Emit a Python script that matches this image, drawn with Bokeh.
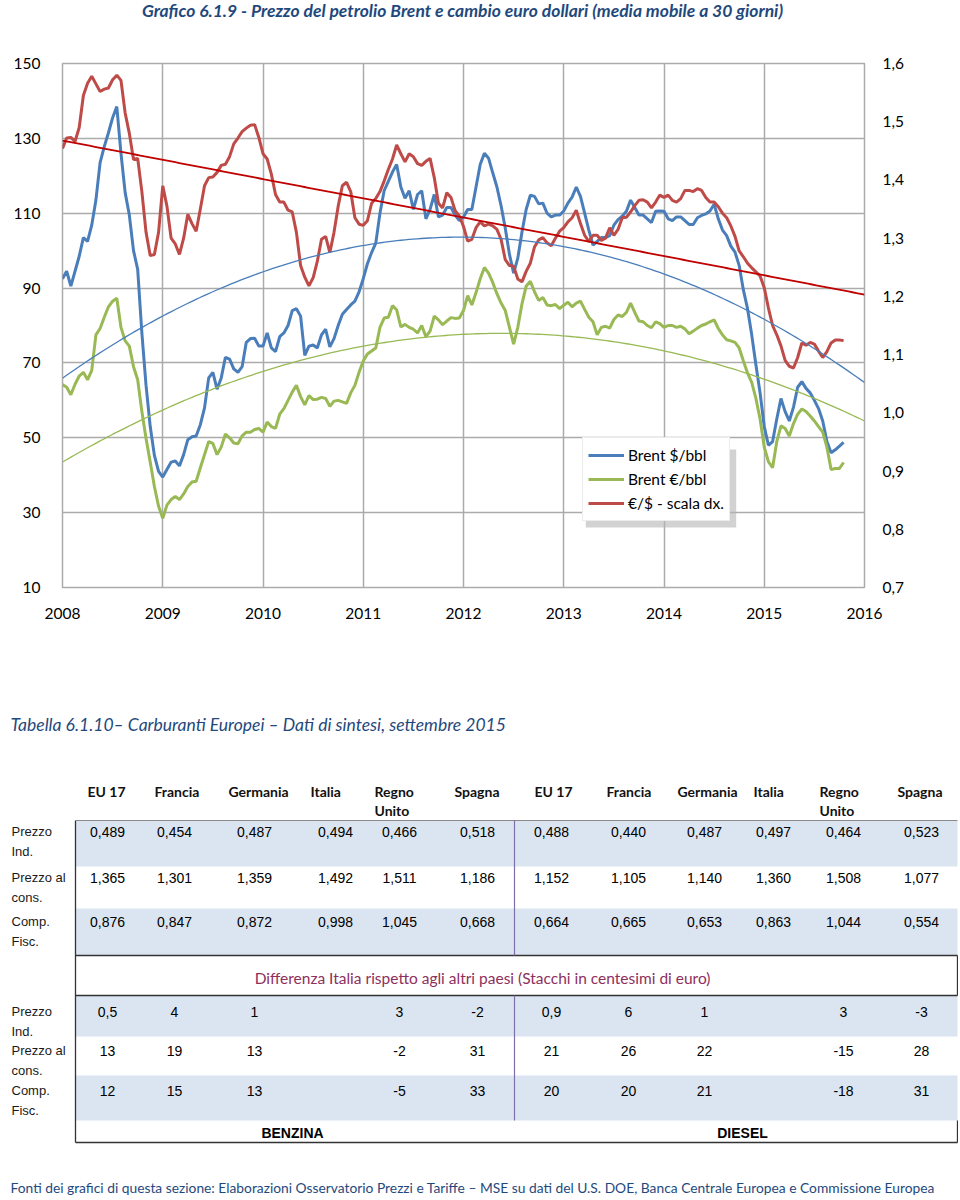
import numpy as np
from bokeh.plotting import figure
from bokeh.models import (Range1d, LinearAxis, FixedTicker, CustomJSTickFormatter,
                          Legend, LegendItem)
from bokeh.layouts import column
from bokeh.embed import file_html
from bokeh.resources import INLINE
from bokeh.core.properties import value

# ---------------------------------------------------------------- data
CHART_TITLE = "Grafico 6.1.9 - Prezzo del petrolio Brent e cambio euro dollari (media mobile a 30 giorni)"
START_YEAR = 2008
STEPS_PER_YEAR = 24          # semi-monthly readings
YEARS = [2008, 2009, 2010, 2011, 2012, 2013, 2014, 2015, 2016]
LEFT_TICKS = [10, 30, 50, 70, 90, 110, 130, 150]
RIGHT_TICKS = [0.7, 0.8, 0.9, 1.0, 1.1, 1.2, 1.3, 1.4, 1.5, 1.6]

BRENT_USD = [
    92.5, 94.5, 90.5, 94.5, 98.5, 103.5, 102.5, 106.8, 113.5, 123.5, 127.8, 131.5,
    135.5, 138.5, 126, 115.5, 109.5, 100, 95, 78, 64, 53, 45.3, 41,
    39.5, 41.5, 43.5, 43.8, 42.5, 45.5, 49.5, 50.3, 50.5, 53.5, 58, 66,
    67.5, 63, 66, 71.5, 71, 68.4, 67.5, 69, 75.5, 76.5, 76.6, 74.5,
    74.5, 78, 74, 73, 77, 78, 80, 84, 84.5, 82.5, 72, 74.5,
    74.8, 74, 77.5, 79, 74.3, 76.5, 80, 83, 84.3, 85.5, 86.5, 89,
    92.5, 96.5, 99.5, 102, 110, 116, 118.5, 121, 123, 117, 114, 116,
    111, 115, 116, 108.5, 111, 115, 109, 109.5, 111.5, 111.5, 109.5, 108,
    109, 111, 111, 117, 123, 126, 124.7, 120.8, 117, 112, 106, 99,
    94, 98, 105, 111, 114.8, 114.5, 112.5, 112.7, 110, 109, 109.5, 109.5,
    110.6, 112.7, 114.3, 117, 114.5, 110, 105.5, 101.5, 102.5, 103.5, 103.5, 104,
    106.8, 108.3, 109.2, 110.5, 113.5, 111.5, 109.5, 109.5, 108.5, 107.5, 110.5, 110.6,
    110.5, 108.5, 108, 109, 109, 108, 107, 107, 108.8, 109.4, 109.8, 110.6,
    112.4, 108.5, 105.5, 104, 101.2, 99.6, 96, 89.5, 84.5, 77.5, 69.5, 62,
    53, 48, 49, 55, 60.5, 57, 54.5, 58.2, 63.5, 65, 63.2, 62,
    60, 57.8, 54.5, 49, 46, 46.8, 47.8, 48.8,
]

BRENT_EUR = [
    64.2, 63.5, 61.5, 64.3, 66.5, 67.5, 65.5, 68, 77.5, 79.2, 82.2, 85,
    86.5, 87.3, 79.5, 75.9, 74.5, 69, 65.5, 57, 49.8, 43.5, 37, 31.7,
    28.5, 32, 33.5, 34.3, 33.5, 35, 37, 38.2, 38.4, 42, 45.5, 49,
    48.5, 45.5, 47.5, 51, 50, 48.6, 48.4, 50.5, 51.5, 51.5, 52.2, 52.5,
    51.5, 54.2, 53, 52.5, 56.3, 57.8, 60, 62.2, 64, 61, 58.8, 61.3,
    60.2, 60.3, 60.8, 60.5, 58.4, 59.8, 60, 59.6, 59.2, 62, 64, 67.5,
    70.5, 72.4, 73.2, 74, 79.5, 82, 82.2, 85.3, 84.2, 79.6, 80.3, 79.5,
    79, 78, 80, 77, 78.5, 82.5, 81.5, 80.2, 81.2, 82.1, 81.9, 82,
    84, 88, 85.5, 88.8, 92.5, 95.5, 94, 91.5, 88.5, 86, 84, 79.5,
    75, 79.5, 85.8, 90.5, 91.8, 89, 86.7, 87.5, 85.5, 85.3, 85.6, 84.5,
    85.4, 86.2, 85, 86, 86.5, 84.3, 82.2, 81, 77.5, 79.5, 79.8, 79.3,
    81.6, 82.8, 82.4, 83.5, 86, 83.5, 81.2, 81, 80, 79.4, 81, 80.5,
    79.5, 80, 80, 79.5, 79.8, 79.1, 77.8, 78.5, 79.3, 80, 80.4, 81,
    81.5, 79.2, 77.5, 76.2, 75.9, 75.5, 74, 70.5, 67.3, 64.8, 60.5, 55,
    47.5, 43.6, 42, 49, 53.2, 52.5, 50.5, 53.8, 56.3, 57.7, 57, 55.8,
    54.5, 53, 51.5, 47.5, 41.5, 41.8, 41.8, 43.4,
]

EUR_USD = [
    1.454, 1.472, 1.473, 1.466, 1.49, 1.545, 1.566, 1.578, 1.565, 1.552, 1.556, 1.558,
    1.572, 1.58, 1.571, 1.515, 1.48, 1.435, 1.437, 1.38, 1.31, 1.27, 1.272, 1.31,
    1.39, 1.355, 1.30, 1.29, 1.272, 1.30, 1.341, 1.325, 1.312, 1.35, 1.39, 1.404,
    1.405, 1.413, 1.425, 1.427, 1.44, 1.462, 1.472, 1.483, 1.489, 1.494, 1.495, 1.473,
    1.445, 1.436, 1.41, 1.375, 1.362, 1.362, 1.348, 1.345, 1.31, 1.253, 1.233, 1.218,
    1.232, 1.26, 1.298, 1.303, 1.275, 1.31, 1.355, 1.39, 1.396, 1.38, 1.335, 1.324,
    1.322, 1.33, 1.36, 1.368, 1.38, 1.398, 1.418, 1.436, 1.46, 1.445, 1.431, 1.445,
    1.44, 1.428, 1.425, 1.432, 1.437, 1.404, 1.36, 1.352, 1.378, 1.37, 1.347, 1.338,
    1.32, 1.295, 1.298, 1.318, 1.328, 1.321, 1.324, 1.321, 1.315, 1.298, 1.263, 1.253,
    1.252, 1.23, 1.225, 1.243, 1.257, 1.285, 1.297, 1.301, 1.292, 1.287, 1.3, 1.312,
    1.318, 1.328, 1.335, 1.348, 1.325, 1.305, 1.294, 1.305, 1.305, 1.296, 1.3, 1.318,
    1.305, 1.315, 1.335, 1.336, 1.345, 1.356, 1.365, 1.366, 1.362, 1.352, 1.362, 1.374,
    1.37, 1.374, 1.365, 1.362, 1.368, 1.382, 1.382, 1.38, 1.385, 1.382, 1.37, 1.362,
    1.362, 1.354, 1.343, 1.335, 1.321, 1.303, 1.278, 1.268, 1.257, 1.249, 1.242, 1.235,
    1.215, 1.18, 1.15, 1.134, 1.115, 1.09, 1.08, 1.077, 1.095, 1.12, 1.116, 1.121,
    1.118, 1.106, 1.095, 1.105, 1.12, 1.125, 1.125, 1.124,
]

SERIES_LABELS = ["Brent $/bbl", "Brent €/bbl", "€/$ - scala dx."]

# table
TABLE_TITLE = "Tabella 6.1.10– Carburanti Europei – Dati di sintesi, settembre 2015"
HEADER_LINE1 = ["EU 17", "Francia", "Germania", "Italia", "Regno", "Spagna"] * 2
HEADER_LINE2 = ["", "", "", "", "Unito", ""] * 2
ROW_LABELS = [("Prezzo", "Ind."), ("Prezzo al", "cons."), ("Comp.", "Fisc.")]

BENZ_IND = [0.489, 0.454, 0.487, 0.494, 0.466, 0.518]
BENZ_CONS = [1.365, 1.301, 1.359, 1.492, 1.511, 1.186]
BENZ_FISC = [0.876, 0.847, 0.872, 0.998, 1.045, 0.668]
DIES_IND = [0.488, 0.440, 0.487, 0.497, 0.464, 0.523]
DIES_CONS = [1.152, 1.105, 1.140, 1.360, 1.508, 1.077]
DIES_FISC = [0.664, 0.665, 0.653, 0.863, 1.044, 0.554]

DIFF_TITLE = "Differenza Italia rispetto agli altri paesi (Stacchi in centesimi di euro)"
BENZ_D_IND = [0.5, 4, 1, None, 3, -2]
BENZ_D_CONS = [13, 19, 13, None, -2, 31]
BENZ_D_FISC = [12, 15, 13, None, -5, 33]
DIES_D_IND = [0.9, 6, 1, None, 3, -3]
DIES_D_CONS = [21, 26, 22, None, -15, 28]
DIES_D_FISC = [20, 20, 21, None, -18, 31]
FUELS = ["BENZINA", "DIESEL"]

FOOTER = ("Fonti dei grafici di questa sezione: Elaborazioni Osservatorio Prezzi e Tariffe – "
          "MSE su dati del U.S. DOE, Banca Centrale Europea e Commissione Europea")

# ---------------------------------------------------------------- styles
NAVY = "#1F497D"
BLUE = "#4A7EBB"
GREEN = "#98B954"
RED = "#BE4B48"
GRID = "#ABABAB"
CAL = "Lato"
ARIAL = "Liberation Sans"
W = 958


def blank(fig):
    fig.axis.visible = False
    fig.grid.visible = False
    fig.outline_line_color = None
    fig.frame_align = False


# ---------------------------------------------------------------- title figure
tf = figure(width=W, height=40, x_range=Range1d(0, W), y_range=Range1d(40, 0),
            output_backend="svg", toolbar_location=None, min_border=0)
blank(tf)
tf.text(x=[462], y=[10], text=[CHART_TITLE], text_font=value(CAL), text_font_size="17.5px",
        text_font_style="bold italic", text_color=NAVY, text_align="center",
        text_baseline="middle")

# ---------------------------------------------------------------- chart
t = START_YEAR + np.arange(len(BRENT_USD)) / STEPS_PER_YEAR
usd = np.array(BRENT_USD, dtype=float)
eur = np.array(BRENT_EUR, dtype=float)
fx = np.array(EUR_USD, dtype=float)

p = figure(width=W, height=610, x_range=Range1d(2008, 2016), y_range=Range1d(10, 150),
           output_backend="svg", toolbar_location=None,
           min_border_left=62, min_border_right=W - 864, min_border_top=23,
           min_border_bottom=63)
p.frame_align = False
p.extra_y_ranges = {"fx": Range1d(0.7, 1.6)}
p.add_layout(LinearAxis(y_range_name="fx"), "right")
p.outline_line_color = GRID
p.outline_line_width = 1.5

p.xaxis.ticker = FixedTicker(ticks=YEARS)
p.xaxis.formatter = CustomJSTickFormatter(code="return tick.toFixed(0);")
p.yaxis[0].ticker = FixedTicker(ticks=LEFT_TICKS)
p.yaxis[1].ticker = FixedTicker(ticks=RIGHT_TICKS)
p.yaxis[1].formatter = CustomJSTickFormatter(code="return tick.toFixed(1).replace('.', ',');")
p.xgrid.ticker = FixedTicker(ticks=YEARS)
p.ygrid.ticker = FixedTicker(ticks=LEFT_TICKS)
p.grid.grid_line_color = GRID
p.grid.grid_line_width = 1.5

for ax in p.axis:
    ax.axis_line_color = None
    ax.major_tick_line_color = None
    ax.minor_tick_line_color = None
    ax.major_label_text_font = CAL
    ax.major_label_text_font_size = "15.5px"
    ax.major_label_text_color = "#000000"
    ax.major_label_standoff = 16
p.xaxis.major_label_standoff = 14
p.yaxis[1].major_label_standoff = 12

# legend shadow (drawn first so the legend sits on top of it)
p.quad(left=[2013.22], right=[2014.72], top=[46.9], bottom=[26.0],
       fill_color="#B4B4B4", fill_alpha=0.6, line_color=None)

r_usd = p.line(t, usd, line_color=BLUE, line_width=3)
r_eur = p.line(t, eur, line_color=GREEN, line_width=3)
r_fx = p.line(t, fx, line_color=RED, line_width=3, y_range_name="fx")

# Excel-style trend lines (polynomial order 2 for Brent, linear for exchange rate)
tt = np.linspace(2008, 2016, 200)
p.line(tt, np.polyval(np.polyfit(t, usd, 2), tt), line_color=BLUE, line_width=1.3)
p.line(tt, np.polyval(np.polyfit(t, eur, 2), tt), line_color=GREEN, line_width=1.3)
p.line(tt, np.polyval(np.polyfit(t, fx, 1), tt), line_color="#C00000", line_width=1.8,
       y_range_name="fx")

legend = Legend(items=[LegendItem(label=SERIES_LABELS[0], renderers=[r_usd]),
                       LegendItem(label=SERIES_LABELS[1], renderers=[r_eur]),
                       LegendItem(label=SERIES_LABELS[2], renderers=[r_fx])],
                location=(520, 66), orientation="vertical",
                label_text_font=CAL, label_text_font_size="15.5px", label_text_color="#000000",
                glyph_width=36, glyph_height=24, label_height=24, label_standoff=4,
                spacing=0, padding=5, margin=0,
                background_fill_color="white", background_fill_alpha=1.0,
                border_line_color="#D9D9D9", border_line_width=1)
p.add_layout(legend)

# ---------------------------------------------------------------- table figure
TB_TOP, TB_BOTTOM = 650, 1196
tb = figure(width=W, height=TB_BOTTOM - TB_TOP, x_range=Range1d(0, W),
            y_range=Range1d(TB_BOTTOM, TB_TOP),
            output_backend="svg", toolbar_location=None, min_border=0)
blank(tb)

LBL_X = 11
HEADER_X = [87, 154, 228, 310, 374, 454, 534, 606, 677, 753, 819, 897]
VALUE_X = [107, 174, 254, 335, 399, 477, 551, 628, 704, 773, 843, 921]
T_LEFT, T_RIGHT, MID_X = 75, 957, 514
UP_BANDS = [(820, 866, True), (866, 908, False), (908, 955, True)]
LO_BANDS = [(995, 1036, True), (1036, 1075, False), (1075, 1120, True)]
UP_ROW_Y = [831, 877, 921]
LO_ROW_Y = [1011, 1050, 1090]
SHADE = "#DBE5F1"

bands = [b for b in UP_BANDS + LO_BANDS if b[2]]
tb.quad(left=[T_LEFT] * len(bands), right=[T_RIGHT] * len(bands),
        top=[b[0] for b in bands], bottom=[b[1] for b in bands],
        fill_color=SHADE, line_color=None)

# borders
tb.segment(x0=[T_LEFT, T_LEFT, T_LEFT, T_LEFT, T_RIGHT, T_RIGHT],
           y0=[955, 995, 1142, 820, 955, 1120],
           x1=[T_RIGHT, T_RIGHT, T_RIGHT, T_LEFT, T_RIGHT, T_RIGHT],
           y1=[955, 995, 1142, 1142, 995, 1142],
           line_color="#333333", line_width=1.3)
tb.segment(x0=[T_LEFT], y0=[820], x1=[T_RIGHT], y1=[820], line_color="#8A8A8A", line_width=1)
tb.segment(x0=[MID_X, MID_X], y0=[820, 995], x1=[MID_X, MID_X], y1=[955, 1120],
           line_color="#7F6FA8", line_width=1.2)

tb.text(x=[10], y=[724], text=[TABLE_TITLE], text_font=value(CAL), text_font_size="17.5px",
        text_font_style="italic", text_color=NAVY, text_baseline="middle")

tb.text(x=HEADER_X, y=[791] * 12, text=HEADER_LINE1, text_font=value(CAL),
        text_font_size="14px", text_font_style="bold", text_color="#111111",
        text_baseline="middle")
tb.text(x=HEADER_X, y=[810] * 12, text=HEADER_LINE2, text_font=value(CAL),
        text_font_size="14px", text_font_style="bold", text_color="#111111",
        text_baseline="middle")


def fmt3(v):
    return f"{v:.3f}".replace(".", ",")


def fmtd(v):
    if v is None:
        return ""
    if float(v).is_integer():
        return str(int(v))
    return str(v).replace(".", ",")


def row_labels(ys):
    xs, yy, tx = [], [], []
    for (a, b), y in zip(ROW_LABELS, ys):
        xs += [LBL_X, LBL_X]
        yy += [y, y + 20]
        tx += [a, b]
    tb.text(x=xs, y=yy, text=tx, text_font=value(ARIAL), text_font_size="13px",
            text_color="#1A1A1A", text_baseline="middle")


row_labels(UP_ROW_Y)
row_labels(LO_ROW_Y)

up_rows = [BENZ_IND + DIES_IND, BENZ_CONS + DIES_CONS, BENZ_FISC + DIES_FISC]
lo_rows = [BENZ_D_IND + DIES_D_IND, BENZ_D_CONS + DIES_D_CONS, BENZ_D_FISC + DIES_D_FISC]
vx, vy, vt = [], [], []
for row, y in zip(up_rows, UP_ROW_Y):
    for x, v in zip(VALUE_X, row):
        vx.append(x); vy.append(y); vt.append(fmt3(v))
for row, y in zip(lo_rows, LO_ROW_Y):
    for x, v in zip(VALUE_X, row):
        vx.append(x); vy.append(y); vt.append(fmtd(v))
tb.text(x=vx, y=vy, text=vt, text_font=value(ARIAL), text_font_size="14px",
        text_color="#000000", text_align="center", text_baseline="middle")

tb.text(x=[482], y=[977], text=[DIFF_TITLE], text_font=value(CAL), text_font_size="15.5px",
        text_color="#8E2F5D", text_align="center", text_baseline="middle")
tb.text(x=[292, 742], y=[1132, 1132], text=FUELS, text_font=value(ARIAL),
        text_font_size="14px", text_font_style="bold", text_color="#000000",
        text_align="center", text_baseline="middle")
tb.text(x=[10], y=[1187], text=[FOOTER], text_font=value(CAL), text_font_size="13.8px",
        text_color=NAVY, text_baseline="middle")

layout = column(tf, p, tb, spacing=0)
open("out.html", "w").write(file_html(layout, INLINE))
